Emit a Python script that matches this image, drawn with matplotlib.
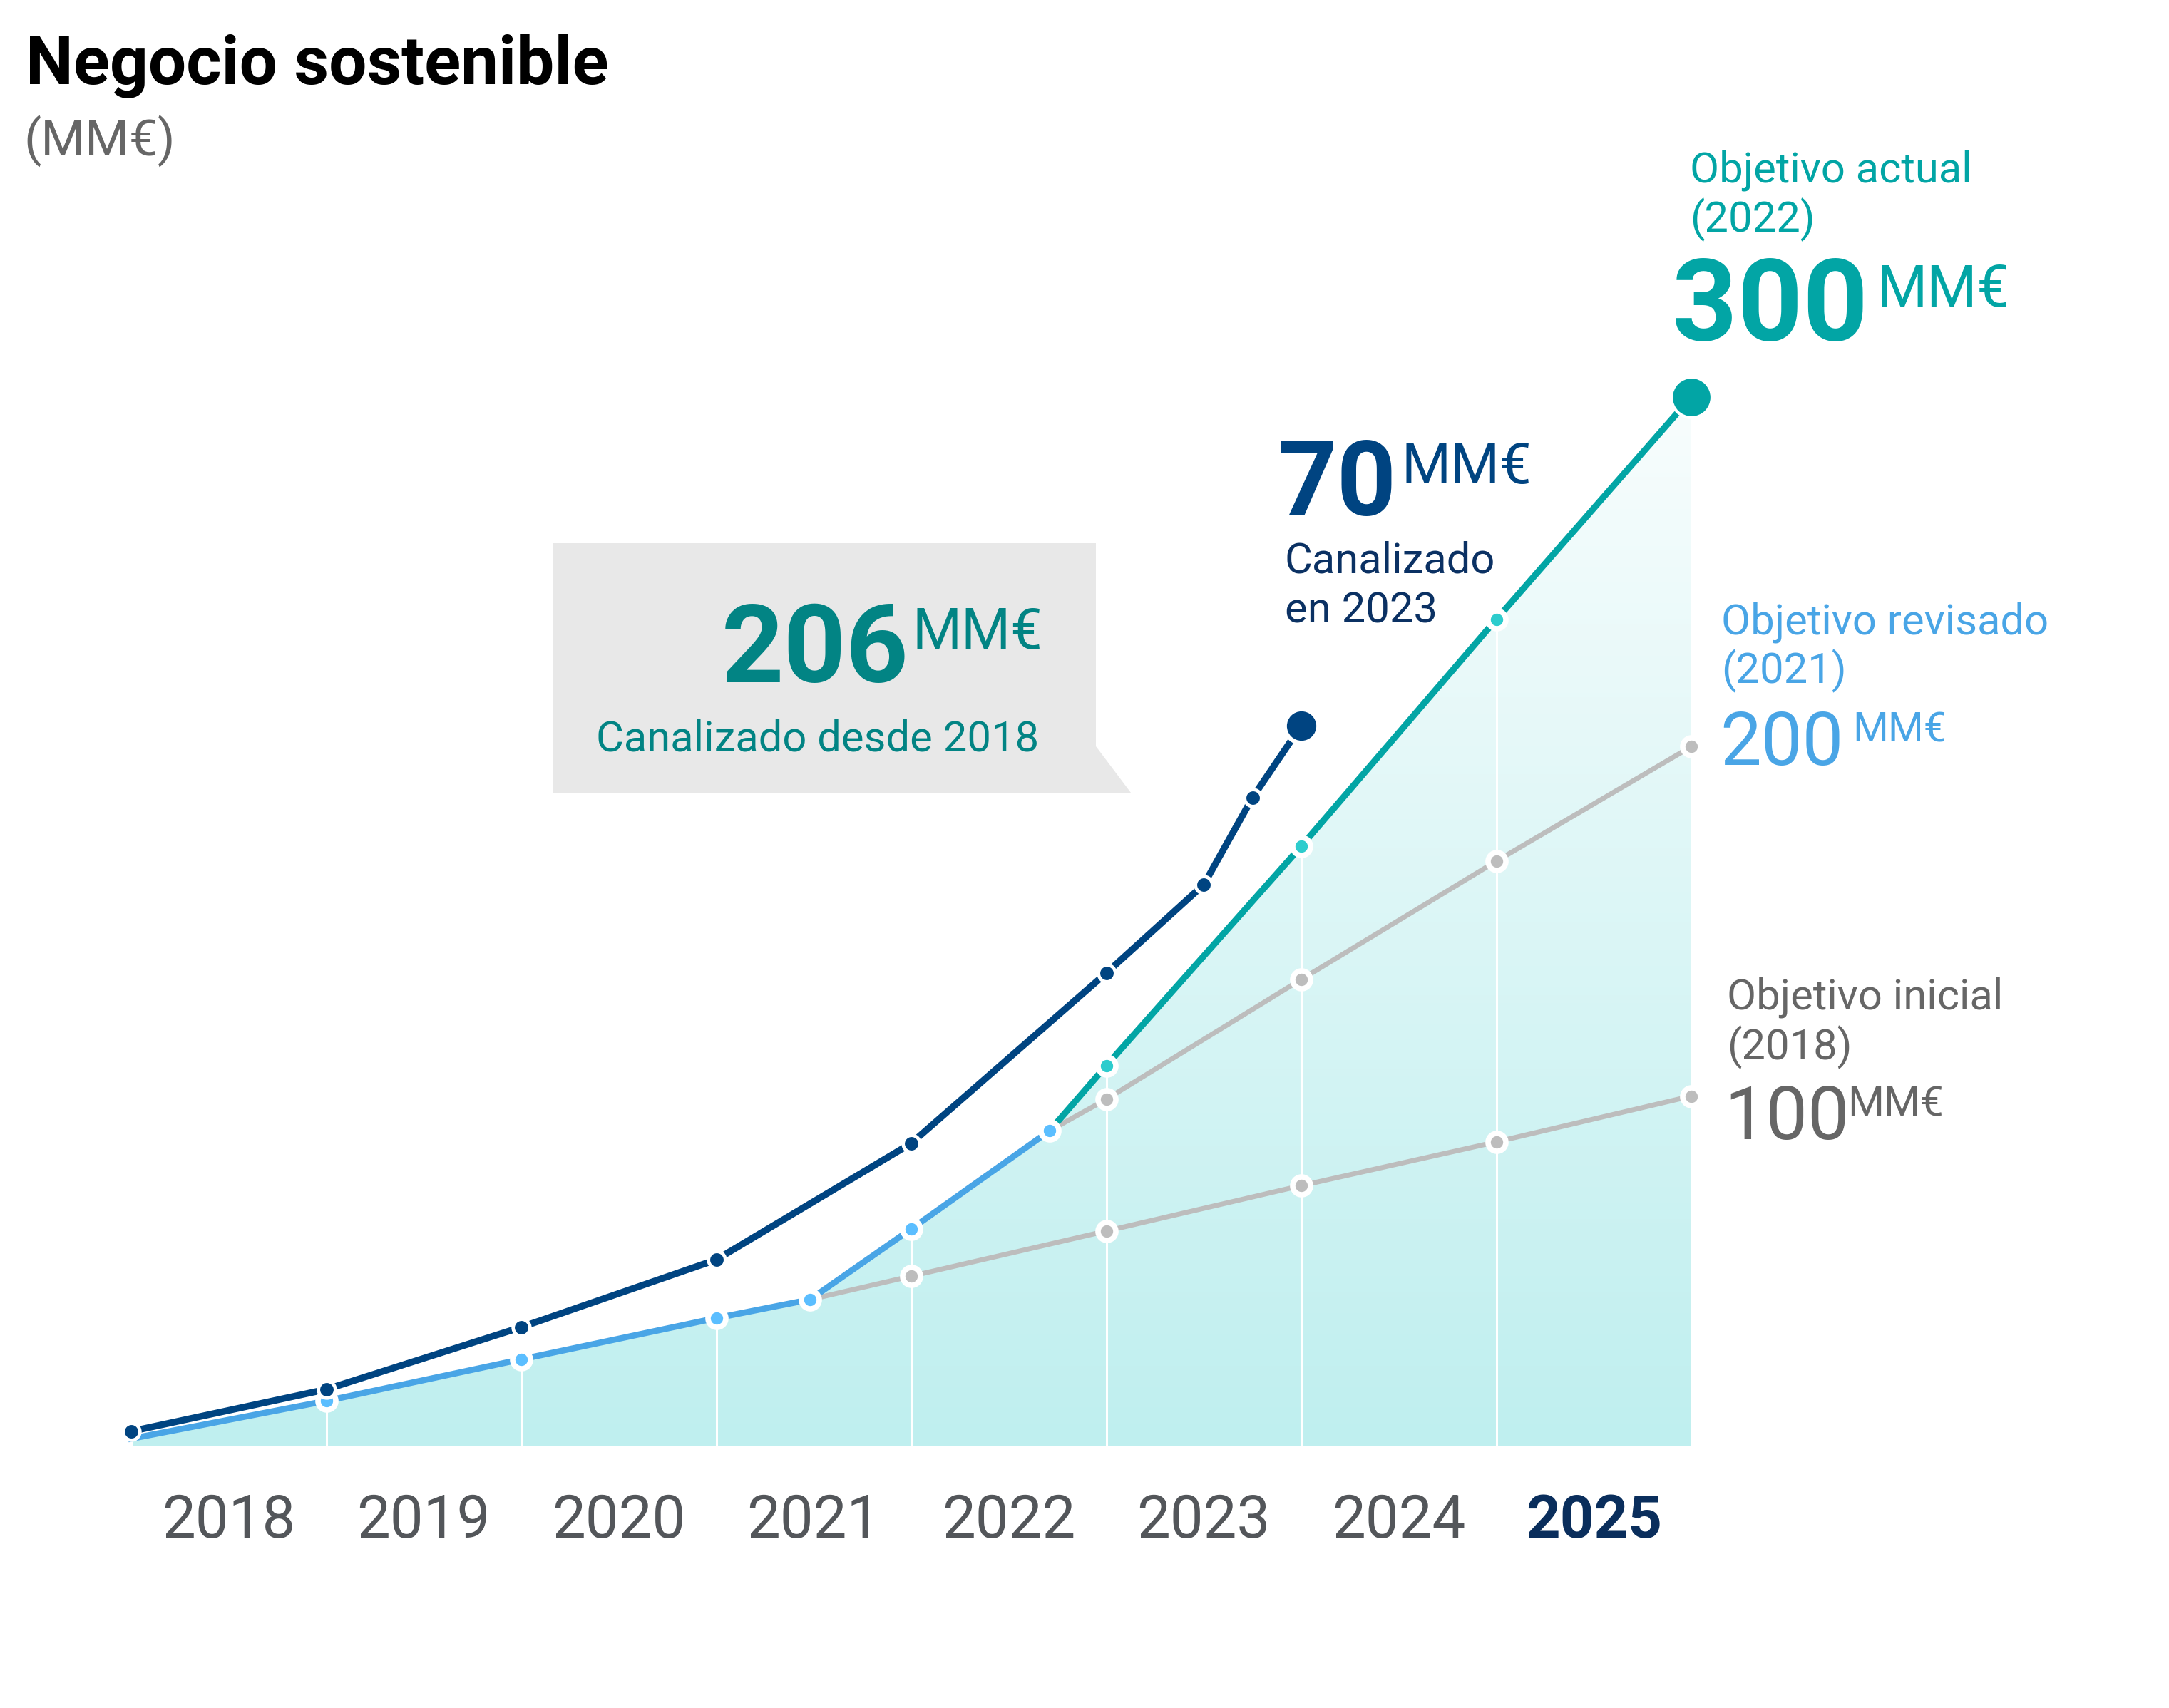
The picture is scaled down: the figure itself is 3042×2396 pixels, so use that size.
import numpy as np
import matplotlib
matplotlib.use("Agg")
import matplotlib.pyplot as plt
from matplotlib.patches import Polygon
from matplotlib.colors import LinearSegmentedColormap
import matplotlib.transforms as mtransforms

# ---------------- data ----------------
years = ["2018", "2019", "2020", "2021", "2022", "2023", "2024", "2025"]

# x = position on the time axis (0 = start of 2018, 8 = end of 2025)
canalizado_x = [0, 1, 2, 3, 4, 5, 5.5, 5.75, 6]
canalizado_y = [4.1, 16.1, 33.9, 53.2, 86.5, 135.2, 160.5, 185.4, 206]

revisado_real_x = [0, 1, 2, 3, 3.48, 4, 4.71]
revisado_real_y = [2.0, 12.8, 24.7, 36.5, 41.8, 62.0, 90.1]

actual_x = [4.71, 5, 6, 7, 8]
actual_y = [90.1, 108.7, 171.5, 236.4, 300]

inicial_x = [3.48, 4, 5, 6, 7, 8]
inicial_y = [41.8, 48.5, 61.4, 74.4, 86.9, 100]

revisado_x = [4.71, 5, 6, 7, 8]
revisado_y = [90.1, 99.1, 133.4, 167.2, 200]

# ---------------- style ----------------
NAVY = "#004481"
NAVY_TXT = "#0B3163"
LBLUE = "#49A5E6"
LBLUE_M = "#5BBEFF"
TEAL = "#02A5A5"
TEAL_M = "#2DCCCD"
TEAL_TXT = "#028484"
GRAY = "#BDBDBD"
GRAY_TXT = "#666666"
YEAR_TXT = "#53565A"
FONT = "Roboto"

W, H, DPI = 3042, 2396, 100
fig = plt.figure(figsize=(W / DPI, H / DPI), dpi=DPI)
fig.patch.set_facecolor("white")

X0, X1, Y0, Y1 = 184, 2372, 2028, 557
ax = fig.add_axes([X0 / W, (H - Y0) / H, (X1 - X0) / W, (Y0 - Y1) / H])
ax.set_xlim(0, 8)
ax.set_ylim(0, 300)
ax.axis("off")

def fx(px):
    return px / W

def fy(py):
    return 1 - py / H

# ---------------- gradient area ----------------
env_x = list(revisado_real_x) + list(actual_x[1:])
env_y = list(revisado_real_y) + list(actual_y[1:])
cmap = LinearSegmentedColormap.from_list("fillgrad", ["#BFEFEF", "#F8FDFD"])
grad = np.linspace(0, 1, 256).reshape(-1, 1)
im = ax.imshow(grad, extent=[0, 8, 0, 300], origin="lower", cmap=cmap,
               aspect="auto", zorder=1, interpolation="bilinear")
poly = Polygon(list(zip(env_x, env_y)) + [(8, 0), (0, 0)], closed=True,
               transform=ax.transData, facecolor="none", edgecolor="none")
im.set_clip_path(poly)

# white vertical separators inside the area
for i in range(0, 9):
    top = np.interp(i, env_x, env_y)
    ax.plot([i, i], [0, top], color="white", lw=2.2, zorder=2,
            solid_capstyle="butt", clip_on=False)

# ---------------- lines ----------------
ax.plot(inicial_x, inicial_y, color=GRAY, lw=5.0, zorder=3, clip_on=False)
ax.plot(revisado_x, revisado_y, color=GRAY, lw=5.0, zorder=3, clip_on=False)
ax.plot(actual_x, actual_y, color=TEAL, lw=6.5, zorder=4, clip_on=False)
ax.plot(revisado_real_x, revisado_real_y, color=LBLUE, lw=6.2, zorder=5,
        clip_on=False)
ax.plot(canalizado_x, canalizado_y, color=NAVY, lw=6.8, zorder=6,
        clip_on=False)

# ---------------- markers ----------------
ax.plot(inicial_x[1:], inicial_y[1:], ls="none", marker="o", ms=18,
        mfc=GRAY, mec="white", mew=5.5, zorder=7, clip_on=False)
ax.plot(revisado_x[1:], revisado_y[1:], ls="none", marker="o", ms=18,
        mfc=GRAY, mec="white", mew=5.5, zorder=7, clip_on=False)
ax.plot(actual_x[1:-1], actual_y[1:-1], ls="none", marker="o", ms=18,
        mfc=TEAL_M, mec="white", mew=5.5, zorder=8, clip_on=False)
ax.plot(actual_x[-1:], actual_y[-1:], ls="none", marker="o", ms=41,
        mfc=TEAL, mec="white", mew=3, zorder=8, clip_on=False)
ax.plot(revisado_real_x[1:], revisado_real_y[1:], ls="none", marker="o",
        ms=18, mfc=LBLUE_M, mec="white", mew=5.5, zorder=9, clip_on=False)
ax.plot(canalizado_x[:-1], canalizado_y[:-1], ls="none", marker="o", ms=17,
        mfc=NAVY, mec="white", mew=3.4, zorder=10, clip_on=False)
ax.plot(canalizado_x[-1:], canalizado_y[-1:], ls="none", marker="o", ms=34,
        mfc=NAVY, mec="white", mew=4.3, zorder=10, clip_on=False)

# ---------------- year labels ----------------
trans = mtransforms.blended_transform_factory(ax.transData, fig.transFigure)
for i, yr in enumerate(years):
    last = i == len(years) - 1
    ax.text(i + 0.5, fy(2157), yr, transform=trans, ha="center",
            va="baseline", fontsize=60, family=FONT,
            weight="bold" if last else "normal",
            color="#0A2E5C" if last else YEAR_TXT, clip_on=False)

# ---------------- title ----------------
fig.text(fx(36), fy(118), "Negocio sostenible", fontsize=68, family=FONT,
         weight="bold", color="#000000", va="baseline")
fig.text(fx(33), fy(218), "(MM€)", fontsize=51, family=FONT,
         weight="normal", color=GRAY_TXT, va="baseline")

# ---------------- callout box ----------------
box = Polygon([(fx(776), fy(762)), (fx(1537), fy(762)), (fx(1537), fy(1047)),
               (fx(1586), fy(1112)), (fx(776), fy(1112))], closed=True,
              transform=fig.transFigure, facecolor="#E8E8E8",
              edgecolor="none", zorder=0)
fig.patches.append(box)
fig.text(fx(1012), fy(957), "206", fontsize=110, family=FONT, weight="bold",
         color=TEAL_TXT, va="baseline")
fig.text(fx(1280), fy(910), "MM€", fontsize=57, family=FONT, weight="normal",
         color=TEAL_TXT, va="baseline")
fig.text(fx(836), fy(1053), "Canalizado desde 2018", fontsize=43,
         family=FONT, weight="normal", color=TEAL_TXT, va="baseline")

# ---------------- 70 MM€ ----------------
fig.text(fx(1792), fy(723), "70", fontsize=105, family=FONT, weight="bold",
         color=NAVY, va="baseline")
fig.text(fx(1965), fy(678), "MM€", fontsize=57, family=FONT, weight="normal",
         color=NAVY, va="baseline")
fig.text(fx(1802), fy(804), "Canalizado", fontsize=43, family=FONT,
         weight="normal", color=NAVY_TXT, va="baseline")
fig.text(fx(1802), fy(873), "en 2023", fontsize=43, family=FONT,
         weight="normal", color=NAVY_TXT, va="baseline")

# ---------------- objetivo actual ----------------
fig.text(fx(2370), fy(255), "Objetivo actual", fontsize=43, family=FONT,
         weight="normal", color=TEAL, va="baseline")
fig.text(fx(2370), fy(325), "(2022)", fontsize=43, family=FONT,
         weight="normal", color=TEAL, va="baseline")
fig.text(fx(2345), fy(477), "300", fontsize=115, family=FONT, weight="bold",
         color=TEAL, va="baseline")
fig.text(fx(2632), fy(430), "MM€", fontsize=58, family=FONT, weight="normal",
         color=TEAL, va="baseline")

# ---------------- objetivo revisado ----------------
fig.text(fx(2414), fy(889), "Objetivo revisado", fontsize=43, family=FONT,
         weight="normal", color=LBLUE, va="baseline")
fig.text(fx(2414), fy(958), "(2021)", fontsize=43, family=FONT,
         weight="normal", color=LBLUE, va="baseline")
fig.text(fx(2412), fy(1073), "200", fontsize=74, family=FONT,
         weight="normal", color=LBLUE, va="baseline")
fig.text(fx(2598), fy(1041), "MM€", fontsize=41, family=FONT,
         weight="normal", color=LBLUE, va="baseline")

# ---------------- objetivo inicial ----------------
fig.text(fx(2422), fy(1415), "Objetivo inicial", fontsize=43, family=FONT,
         weight="normal", color=GRAY_TXT, va="baseline")
fig.text(fx(2422), fy(1486), "(2018)", fontsize=43, family=FONT,
         weight="normal", color=GRAY_TXT, va="baseline")
fig.text(fx(2418), fy(1598), "100", fontsize=75, family=FONT,
         weight="normal", color=GRAY_TXT, va="baseline")
fig.text(fx(2591), fy(1566), "MM€", fontsize=42, family=FONT,
         weight="normal", color=GRAY_TXT, va="baseline")

fig.savefig("out.png", dpi=DPI, facecolor="white")
